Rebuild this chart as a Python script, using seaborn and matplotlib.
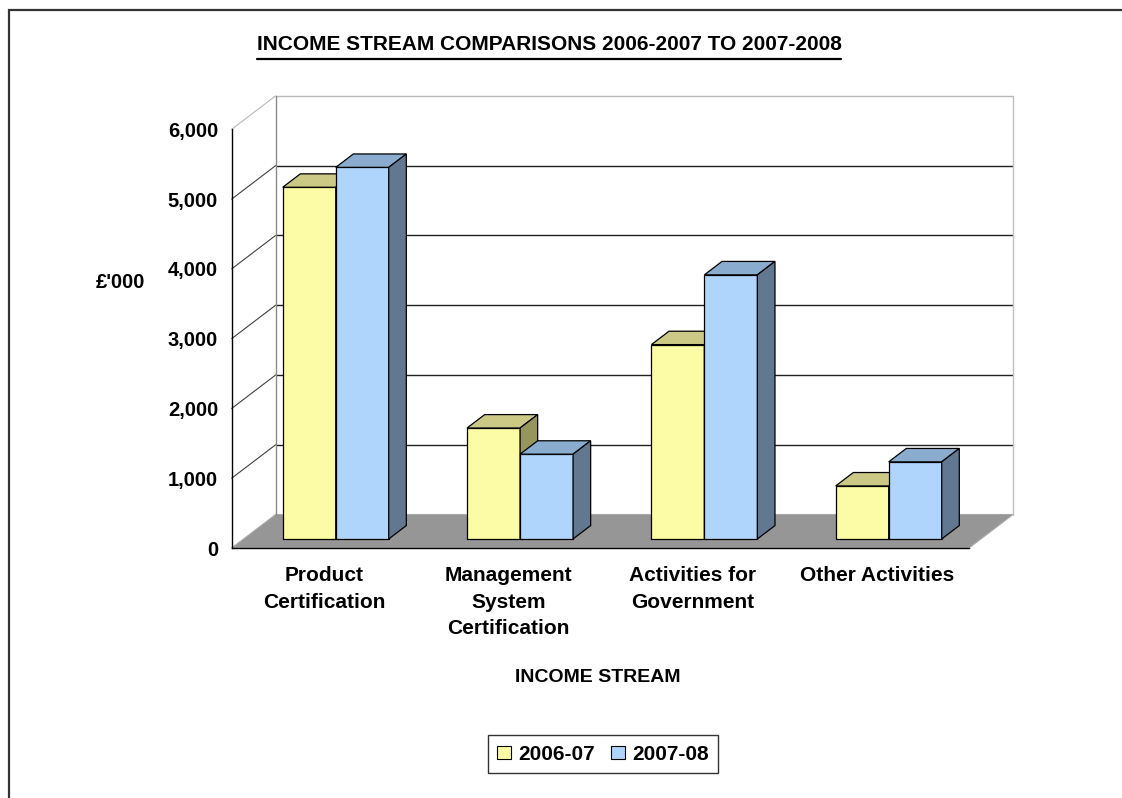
import matplotlib
matplotlib.use("Agg")
import numpy as np
import pandas as pd
import seaborn as sns
import matplotlib.pyplot as plt
from matplotlib.patches import Polygon, Patch, Rectangle
from matplotlib.lines import Line2D
from matplotlib.transforms import Affine2D, IdentityTransform

# ---------------- data ----------------
categories = ["Product\nCertification", "Management\nSystem\nCertification",
              "Activities for\nGovernment", "Other Activities"]
years = ["2006-07", "2007-08"]
values_2006_07 = [5040, 1590, 2785, 760]
values_2007_08 = [5325, 1215, 3785, 1105]
y_ticks = [0, 1000, 2000, 3000, 4000, 5000, 6000]
y_tick_labels = ["0", "1,000", "2,000", "3,000", "4,000", "5,000", "6,000"]
title_text = "INCOME STREAM COMPARISONS 2006-2007 TO 2007-2008"
x_label = "INCOME STREAM"
y_label = "£'000"

# ---------------- style ----------------
front_colors = ["#FDFCA6", "#B0D5FC"]
top_colors = ["#CCC987", "#8AACCF"]
side_colors = ["#97955E", "#627891"]
floor_color = "#969696"

sns.set_style("white")
plt.rcParams["font.family"] = ["Liberation Sans", "DejaVu Sans"]
plt.rcParams["font.weight"] = "bold"
for k in ["text.color", "axes.labelcolor", "xtick.color", "ytick.color"]:
    plt.rcParams[k] = "black"

df = pd.DataFrame({
    "stream": categories * 2,
    "year": [years[0]] * len(categories) + [years[1]] * len(categories),
    "value": values_2006_07 + values_2007_08,
})

W, H = 1122, 798
fig = plt.figure(figsize=(W / 100, H / 100), dpi=100)
fig.patch.set_facecolor("white")

ax_left, ax_right, ax_bottom, ax_top = 231.7, 969.0, 548.0, 129.3
ax = fig.add_axes([ax_left / W, (H - ax_bottom) / H,
                   (ax_right - ax_left) / W, (ax_bottom - ax_top) / H])
ax.set_facecolor("none")

sns.barplot(data=df, x="stream", y="value", hue="year", palette=front_colors,
            width=0.575, gap=0, edgecolor="black", linewidth=0.9,
            saturation=1, legend=False, ax=ax)
ax.set_xlim(-0.5, 3.5)
ax.set_ylim(0, 6000)

# depth vector (full floor depth) in data units
px_x = (ax_right - ax_left) / 4.0
px_y = (ax_bottom - ax_top) / 6000.0
Dx = 44.0 / px_x
Dy = 33.5 / px_y
x0, x1 = -0.5, 3.5

# floor
floor = Polygon([(x0, 0), (x1, 0), (x1 + Dx, Dy), (x0 + Dx, Dy)], closed=True,
                facecolor=floor_color, edgecolor="#a8a8a8", lw=0.8, zorder=1,
                clip_on=False)
ax.add_patch(floor)

# back wall + left wall grid lines
for v in y_ticks[1:]:
    col = "#b8b8b8" if v == y_ticks[-1] else "#202020"
    ax.plot([x0 + Dx, x1 + Dx], [v + Dy, v + Dy], color=col, lw=1.0,
            zorder=1.2, clip_on=False)
    ax.plot([x0, x0 + Dx], [v, v + Dy], color=col if v == y_ticks[-1] else "#404040",
            lw=0.8, zorder=1.2, clip_on=False)
ax.plot([x0 + Dx, x0 + Dx], [Dy, 6000 + Dy], color="#8a8a8a", lw=1.0, zorder=1.2, clip_on=False)
ax.plot([x1 + Dx, x1 + Dx], [Dy, 6000 + Dy], color="#c0c0c0", lw=1.0, zorder=1.2, clip_on=False)

# 3D bars: shift front faces to their depth and add tops and sides
ox, oy = 0.27 * Dx, 0.27 * Dy
bx, by = 0.40 * Dx, 0.40 * Dy
shift = Affine2D().translate(ox, oy) + ax.transData
for i, cont in enumerate(ax.containers):
    for bar in cont:
        x = bar.get_x(); w = bar.get_width(); h = bar.get_height()
        bar.set_transform(shift)
        bar.set_zorder(3 + i)
        bar.set_clip_on(False)
        top = Polygon([(x, h), (x + w, h), (x + w + bx, h + by), (x + bx, h + by)],
                      closed=True, facecolor=top_colors[i], edgecolor="black",
                      lw=0.9, transform=shift, zorder=3 + i, clip_on=False)
        side = Polygon([(x + w, 0), (x + w + bx, by), (x + w + bx, h + by), (x + w, h)],
                       closed=True, facecolor=side_colors[i], edgecolor="black",
                       lw=0.9, transform=shift, zorder=3 + i, clip_on=False)
        ax.add_patch(top)
        ax.add_patch(side)

# axes / ticks
for s in ["top", "right"]:
    ax.spines[s].set_visible(False)
for s in ["left", "bottom"]:
    ax.spines[s].set_color("black")
    ax.spines[s].set_linewidth(1.0)
ax.set_yticks(y_ticks)
ax.set_yticklabels(y_tick_labels, fontsize=14.5, fontweight="bold")
ax.tick_params(axis="y", direction="out", length=5.8, width=1.0, color="black", pad=4)
ax.set_xticks(range(len(categories)))
ax.set_xticklabels(categories, fontsize=15, fontweight="bold", linespacing=1.5,
                   va="top")
ax.tick_params(axis="x", which="major", length=0, pad=13)
ax.set_xticks([x0 + k for k in range(len(categories) + 1)], minor=True)
ax.tick_params(axis="x", which="minor", direction="out", length=5.2, width=1.0, color="black")

ax.set_xlabel(x_label, fontsize=14, fontweight="bold")
ax.xaxis.set_label_coords((598 - ax_left) / (ax_right - ax_left),
                          (ax_bottom - 677) / (ax_bottom - ax_top))
ax.xaxis.label.set_va("center")
ax.set_ylabel(y_label, fontsize=14.5, fontweight="bold", rotation=0, ha="center", va="center")
ax.yaxis.set_label_coords((120 - ax_left) / (ax_right - ax_left),
                          (ax_bottom - 282) / (ax_bottom - ax_top))

# title with underline
title = fig.text(549 / W, 1 - 50 / H, title_text, ha="center", va="baseline",
                 fontsize=15, fontweight="bold")

# legend
handles = [Patch(facecolor=c, edgecolor="black", linewidth=0.8) for c in front_colors]
leg = fig.legend(handles, years, loc="upper center", bbox_to_anchor=(603 / W, 1 - 725 / H),
                 ncol=2, frameon=True, fancybox=False, edgecolor="black",
                 handlelength=0.65, handleheight=0.65, handletextpad=0.35,
                 columnspacing=0.8, borderpad=0.45,
                 prop={"size": 15, "weight": "bold"})
leg.get_frame().set_linewidth(1.0)

# outer frame
fig.add_artist(Rectangle((8.5 / W, -0.1), 1.2, 1.1 - 10.5 / H, transform=fig.transFigure,
                         fill=False, edgecolor="#333333", lw=1.6))

fig.canvas.draw()
bb = title.get_window_extent()
fig.add_artist(Line2D([bb.x0, bb.x1], [H - 58.5, H - 58.5], color="black", lw=1.6,
                      transform=IdentityTransform()))

fig.savefig("out.png", dpi=100)
